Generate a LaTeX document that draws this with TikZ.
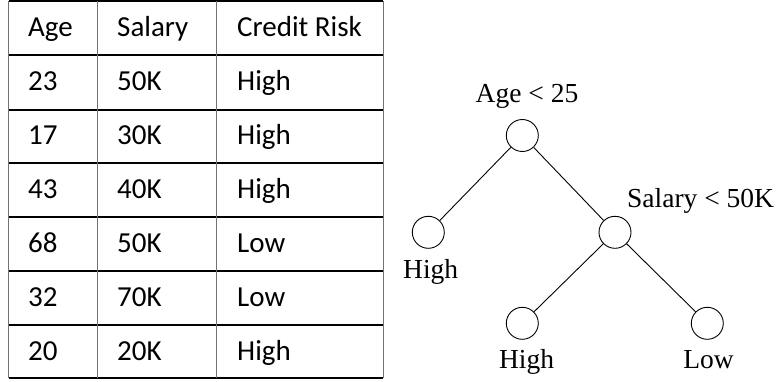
\documentclass[tikz,border=0pt]{standalone}
\usepackage{fontspec}
\setmainfont{Liberation Serif}
\newfontfamily\tabfont{Carlito}
\begin{document}
\begin{tikzpicture}[x=1pt,y=-1pt,
  hrule/.style={black,line width=1.3pt},
  vrule/.style={draw=black!55,line width=1pt},
  cell/.style={anchor=base west,inner sep=0pt,font=\tabfont\fontsize{29}{32}\selectfont},
  treenode/.style={circle,draw=black,line width=0.9pt,minimum size=32pt,inner sep=0pt},
  edge/.style={draw=black,line width=0.9pt},
  tlabel/.style={inner sep=0pt,font=\fontsize{27.5}{30}\selectfont}]
\useasboundingbox (0,0) rectangle (777,381);
% table grid
\foreach \y in {1,55,110,163,217,271,325,378}
  \draw[hrule] (8.5,\y) -- (383,\y);
\foreach \x in {8.5,97,216,383}
  \draw[vrule] (\x,1) -- (\x,378);
% table contents
\foreach \r/\a/\s/\c [count=\i from 0] in {Age/Salary/Credit Risk,23/50K/High,17/30K/High,43/40K/High,68/50K/Low,32/70K/Low,20/20K/High}{
  \pgfmathsetmacro{\yb}{1+53.85*(\i+0.5)+9}
  \node[cell] (a\i) at (28,\yb) {\r};
  \node[cell] (s\i) at (117,\yb) {\a};
  \node[cell] (c\i) at (237,\yb) {\s};
}
% decision tree
\node[treenode] (root) at (522.3,135.5) {};
\node[treenode] (left) at (428.3,232.3) {};
\node[treenode] (mid) at (615,232.3) {};
\node[treenode] (bl) at (522.3,323.3) {};
\node[treenode] (br) at (707.3,323.3) {};
\draw[edge] (root) -- (left);
\draw[edge] (root) -- (mid);
\draw[edge] (mid) -- (bl);
\draw[edge] (mid) -- (br);
\node[tlabel,anchor=base] (lroot) at (527,102) {Age < 25};
\node[tlabel,anchor=base west] (lmid) at (627,207) {Salary < 50K};
\node[tlabel,anchor=base west] (lleft) at (403,278) {High};
\node[tlabel,anchor=base] (lbl) at (526.5,368) {High};
\node[tlabel,anchor=base] (lbr) at (708.5,368) {Low};
\end{tikzpicture}
\end{document}
